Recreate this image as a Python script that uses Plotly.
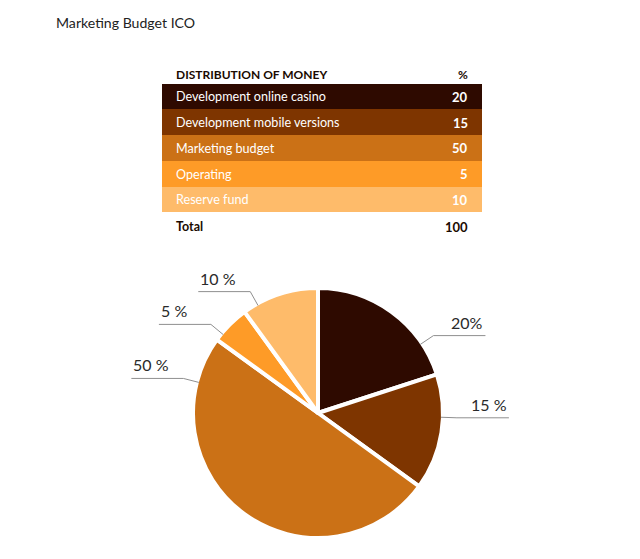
import math
import plotly.graph_objects as go

# ---- data ----
categories = ["Development online casino", "Development mobile versions",
              "Marketing budget", "Operating", "Reserve fund"]
values = [20, 15, 50, 5, 10]
header_labels = ["DISTRIBUTION OF MONEY", "%"]
total_label = "Total"
pie_labels = ["20%", "15 %", "50 %", "5 %", "10 %"]
colors = ["#2E0A00", "#7E3500", "#CB7116", "#FE9B27", "#FEBB6A"]

# ---- layout constants (pixels) ----
W, H = 640, 559
FONT = "Lato"
DARK = "#1a0a00"
cx, cy, R = 318, 413, 125
leader_frac = [0.78, 0.37, 0.88, 0.2, 0.19]
EXT, HLEN = 16, 52
ROW_H = 25.74
TBL_X0, TBL_X1 = 162, 482
ROW1_TOP = 84
Y_RANGE = [5.5, -1.3]  # reversed: row index grows downward


def px(x):
    return x / W


def py(y):
    return 1 - y / H


tbl_top = ROW1_TOP - (-0.5 - Y_RANGE[1]) * ROW_H
tbl_bot = tbl_top + (Y_RANGE[0] - Y_RANGE[1]) * ROW_H

fig = go.Figure()

# table body as full-width horizontal bars, one per row
rows = list(range(len(categories)))
fig.add_trace(go.Bar(
    y=rows, x=[1] * len(rows), base=0, orientation="h", width=1,
    marker=dict(color=colors, line=dict(width=0)),
    hovertext=[f"{c}: {v}" for c, v in zip(categories, values)],
    hoverinfo="text", showlegend=False,
    xaxis="x2", yaxis="y2",
))

# pie
fig.add_trace(go.Pie(
    values=values,
    labels=categories,
    sort=False,
    direction="clockwise",
    rotation=0,
    textinfo="none",
    hoverinfo="label+percent",
    marker=dict(colors=colors, line=dict(color="white", width=4)),
    domain=dict(x=[px(cx - R), px(cx + R)], y=[py(cy + R), py(cy - R)]),
    showlegend=False,
))

LX, RX = 12 / (TBL_X1 - TBL_X0), 1 - 12 / (TBL_X1 - TBL_X0)
annotations = [dict(
    text="Marketing Budget ICO", x=px(54), y=py(22), xref="paper", yref="paper",
    xanchor="left", yanchor="middle", showarrow=False,
    font=dict(family=FONT, size=14.1, color="#222222"),
)]


def tbl_text(text, x, y, anchor, color, size, bold=False):
    annotations.append(dict(
        text=f"<b>{text}</b>" if bold else text, x=x, y=y, xref="x2", yref="y2",
        xanchor=anchor, yanchor="middle", showarrow=False,
        font=dict(family=FONT, size=size, color=color),
    ))


header_y = -0.5 - 9 / ROW_H
total_y = len(rows) - 0.5 + 14.3 / ROW_H
tbl_text(header_labels[0], LX, header_y, "left", DARK, 12, True)
tbl_text(header_labels[1], RX, header_y, "right", DARK, 12, True)
for i, (c, v) in enumerate(zip(categories, values)):
    tbl_text(c, LX, i, "left", "white", 12.6)
    tbl_text(v, RX, i, "right", "white", 13, True)
tbl_text(total_label, LX, total_y, "left", DARK, 12.5, True)
tbl_text(sum(values), RX, total_y, "right", DARK, 13, True)

# leader lines + labels, derived from the slice angles
tot = sum(values)
cum = 0
shapes = []
for v, lab, f in zip(values, pie_labels, leader_frac):
    ang = math.radians(360 * (cum + f * v) / tot)
    cum += v
    sx, sy = math.sin(ang), -math.cos(ang)
    r0 = R - 2
    x0, y0 = cx + r0 * sx, cy + r0 * sy
    x1, y1 = cx + (r0 + EXT) * sx, cy + (r0 + EXT) * sy
    side = 1 if sx >= 0 else -1
    x2 = x1 + side * HLEN
    path = f"M {px(x0)},{py(y0)} L {px(x1)},{py(y1)} L {px(x2)},{py(y1)}"
    shapes.append(dict(type="path", path=path, xref="paper", yref="paper",
                       line=dict(color="#8f8f8f", width=1)))
    annotations.append(dict(
        text=lab, x=px(x2), y=py(y1 - 2), xref="paper", yref="paper",
        xanchor="right" if side > 0 else "left", yanchor="bottom",
        showarrow=False, font=dict(family=FONT, size=16, color="#2a2a2a"),
    ))

fig.update_layout(
    width=W, height=H,
    margin=dict(l=0, r=0, t=0, b=0),
    paper_bgcolor="white", plot_bgcolor="white",
    xaxis2=dict(domain=[px(TBL_X0), px(TBL_X1)], range=[0, 1], visible=False,
                fixedrange=True, anchor="y2"),
    yaxis2=dict(domain=[py(tbl_bot), py(tbl_top)], range=Y_RANGE, visible=False,
                fixedrange=True, anchor="x2"),
    xaxis=dict(visible=False), yaxis=dict(visible=False),
    bargap=0,
    shapes=shapes, annotations=annotations,
)

fig.write_html("out.html", config={"displayModeBar": False},
               post_script="document.body.style.margin='0';")
